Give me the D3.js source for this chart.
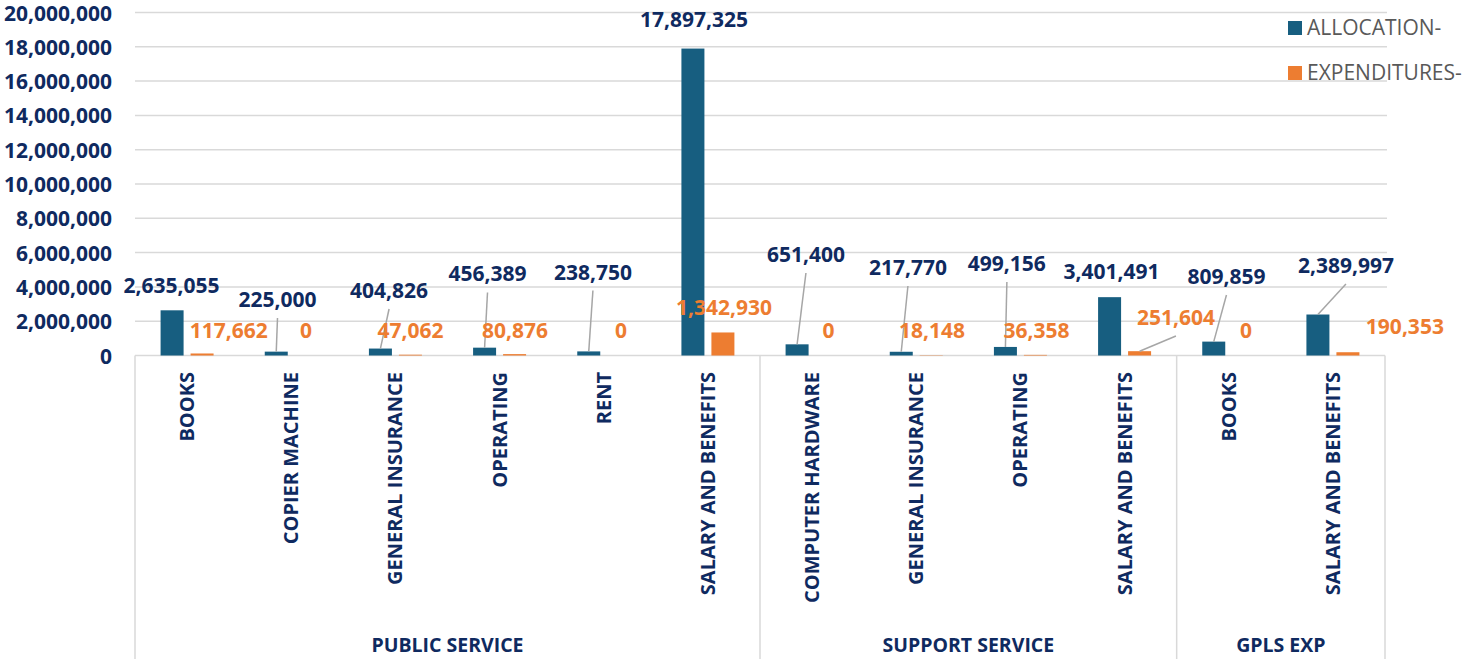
<!DOCTYPE html>
<html>
<head>
<meta charset="utf-8">
<script src="https://cdn.jsdelivr.net/npm/d3@7"></script>
<style>
  html, body { margin: 0; padding: 0; background: #ffffff; }
  svg { display: block; }
  text { font-family: "Open Sans", "DejaVu Sans", sans-serif; }
</style>
</head>
<body>
<svg id="chart" width="1463" height="659"></svg>
<script>
// ---------- DATA ----------
const categories = [
  "BOOKS", "COPIER MACHINE", "GENERAL INSURANCE", "OPERATING", "RENT", "SALARY AND BENEFITS",
  "COMPUTER HARDWARE", "GENERAL INSURANCE", "OPERATING", "SALARY AND BENEFITS",
  "BOOKS", "SALARY AND BENEFITS"
];
const groups = ["PUBLIC SERVICE", "SUPPORT SERVICE", "GPLS EXP"];
const groupSizes = [6, 4, 2];
const allocation = [2635055, 225000, 404826, 456389, 238750, 17897325, 651400, 217770, 499156, 3401491, 809859, 2389997];
const expenditures = [117662, 0, 47062, 80876, 0, 1342930, 0, 18148, 36358, 251604, 0, 190353];
const seriesNames = ["ALLOCATION-", "EXPENDITURES-"];
const yTicks = [0, 2000000, 4000000, 6000000, 8000000, 10000000, 12000000, 14000000, 16000000, 18000000, 20000000];

// label placement (as in the source chart): horizontal shift in band fractions, baseline in value units
const allocLabelDx = [-0.15, -0.132, -0.061, -0.116, -0.104, -0.134, -0.059, -0.08, -0.13, -0.126, -0.022, 0.125];
const allocLabelY  = [3644000, 2828000, 3353000, 4315000, 4431000, 19155000, 5452000, 4694000, 4927000, 4461000, 4169000, 4810000];
const expLabelDx   = [0.40, 0.141, 0.145, 0.148, 0.165, 0.154, 0.157, 0.151, 0.154, 0.493, 0.165, 0.691];
const expLabelY    = [1020000, 1020000, 1020000, 1020000, 1020000, 2362000, 1020000, 1020000, 1020000, 1778000, 1020000, 1254000];

// ---------- STYLE ----------
const colors = ["#175e80", "#ed7d31"];
const labelColors = ["#0f2a60", "#ed7d31"];
const navy = "#0f2a60";
const gridColor = "#d9d9d9";

const svg = d3.select("#chart");
const plotLeft = 135, plotRight = 1385, plotTop = 12.5, plotBottom = 355.5;

const idx = categories.map((d, i) => i);
const x = d3.scaleBand().domain(idx).range([plotLeft, plotRight]).paddingInner(0).paddingOuter(0);
const xs = d3.scaleBand().domain([0, 1]).range([0, x.bandwidth()]).paddingInner(0.2333).paddingOuter(0.853);
const y = d3.scaleLinear().domain([0, 20000000]).range([plotBottom, plotTop]);
const fmt = d3.format(",");

// gridlines
svg.append("g").selectAll("line").data(yTicks.filter(t => t > 0)).join("line")
  .attr("x1", plotLeft).attr("x2", plotRight + 2)
  .attr("y1", d => y(d)).attr("y2", d => y(d))
  .attr("stroke", gridColor).attr("stroke-width", 1.5);

// y axis labels
const yAxis = d3.axisLeft(y).tickValues(yTicks).tickFormat(fmt).tickSize(0).tickPadding(0);
const ya = svg.append("g").attr("transform", `translate(${112},0)`).call(yAxis);
ya.select(".domain").remove();
ya.selectAll("text")
  .attr("fill", navy).attr("font-size", 21).attr("font-weight", 700)
  .attr("font-family", "'Open Sans', sans-serif")
  .attr("dy", "0.36em");

// x axis baseline
svg.append("line").attr("x1", plotLeft).attr("x2", plotRight).attr("y1", plotBottom).attr("y2", plotBottom)
  .attr("stroke", gridColor).attr("stroke-width", 1.5);

// group separators
let acc = 0;
const boundaries = [0];
groupSizes.forEach(s => { acc += s; boundaries.push(acc); });
const bx = d => d < categories.length ? x(d) : plotRight;
svg.append("g").selectAll("line").data(boundaries).join("line")
  .attr("x1", bx).attr("x2", bx)
  .attr("y1", plotBottom).attr("y2", 659)
  .attr("stroke", gridColor).attr("stroke-width", 1.5);

// group labels
svg.append("g").selectAll("text").data(groups).join("text")
  .attr("x", (d, i) => (bx(boundaries[i]) + bx(boundaries[i + 1])) / 2)
  .attr("y", 652)
  .attr("text-anchor", "middle")
  .attr("fill", navy).attr("font-size", 19.5).attr("font-weight", 700)
  .text(d => d);

// category labels (rotated)
svg.append("g").selectAll("text").data(categories).join("text")
  .attr("transform", (d, i) => `translate(${x(i) + x.bandwidth() / 2 + 7},372) rotate(-90)`)
  .attr("text-anchor", "end")
  .attr("fill", navy).attr("font-size", 20).attr("font-weight", 700)
  .text(d => d);

// bars
const series = [allocation, expenditures];
series.forEach((vals, s) => {
  svg.append("g").selectAll("rect").data(vals).join("rect")
    .attr("x", (d, i) => x(i) + xs(s))
    .attr("width", xs.bandwidth())
    .attr("y", d => y(d))
    .attr("height", d => Math.max(0, y(0) - y(d)))
    .attr("fill", colors[s]);
});

// data labels + leader lines
const labelDx = [allocLabelDx, expLabelDx];
const labelY = [allocLabelY, expLabelY];
series.forEach((vals, s) => {
  const g = svg.append("g");
  vals.forEach((v, i) => {
    const cx = x(i) + x.bandwidth() / 2 + labelDx[s][i] * x.bandwidth();
    const by = y(labelY[s][i]);
    const barCx = x(i) + xs(s) + xs.bandwidth() / 2;
    const barTop = y(v);
    if (barTop - by > 22) {
      g.append("line")
        .attr("x1", cx).attr("y1", by + 11)
        .attr("x2", barCx).attr("y2", barTop)
        .attr("stroke", "#a6a6a6").attr("stroke-width", 1.5);
    }
    g.append("text")
      .attr("x", cx).attr("y", by)
      .attr("text-anchor", "middle")
      .attr("fill", labelColors[s]).attr("font-size", 21).attr("font-weight", 700)
      .text(fmt(v));
  });
});

// legend
const legend = svg.append("g");
seriesNames.forEach((name, s) => {
  const ly = 21 + s * 45;
  legend.append("rect").attr("x", 1288).attr("y", ly).attr("width", 14).attr("height", 14).attr("fill", colors[s]);
  legend.append("text").attr("x", 1307).attr("y", ly + 14)
    .attr("fill", "#595959").attr("font-size", 21).text(name);
});
</script>
</body>
</html>
